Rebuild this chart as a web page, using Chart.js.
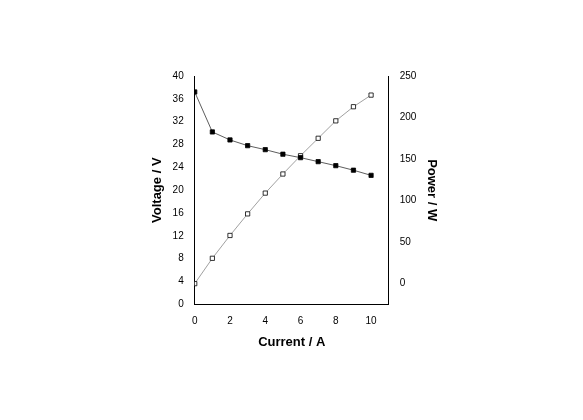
<!DOCTYPE html>
<html><head><meta charset="utf-8">
<script src="https://cdn.jsdelivr.net/npm/chart.js@4"></script>
<style>html,body{margin:0;background:#fff}</style>
</head><body><canvas id="c" width="583" height="420"></canvas>
<script>
const current = [0, 1, 2, 3, 4, 5, 6, 7, 8, 9, 10];
const voltage = [37.2, 30.2, 28.8, 27.8, 27.1, 26.3, 25.7, 25.0, 24.3, 23.5, 22.6];
const power = [0, 30.5, 58, 84, 109, 132, 154, 175, 196, 213, 227];

const pts = (ys) => current.map((x, i) => ({ x: x, y: ys[i] }));
const font = { family: "Liberation Sans, Arial", size: 10 };
const titleFont = { family: "Liberation Sans, Arial", size: 13, weight: "bold" };

new Chart(document.getElementById("c"), {
  type: "scatter",
  data: {
    datasets: [
      {
        data: pts(voltage), yAxisID: "y", showLine: true,
        borderColor: "#333", borderWidth: 0.8, pointStyle: "rect",
        pointRadius: 3, backgroundColor: "#000", pointBorderColor: "#000",
      },
      {
        data: pts(power), yAxisID: "y2", showLine: true,
        borderColor: "#888", borderWidth: 0.8, pointStyle: "rect",
        pointRadius: 3, pointBackgroundColor: "#fff", pointBorderColor: "#000", pointBorderWidth: 0.8,
      },
    ],
  },
  options: {
    responsive: false, animation: false,
    layout: { padding: { left: 146, right: 140, top: 76, bottom: 66 } },
    plugins: { legend: { display: false }, tooltip: { enabled: false } },
    scales: {
      x: {
        type: "linear", min: 0, max: 11,
        afterBuildTicks: (ax) => { ax.ticks = [0, 2, 4, 6, 8, 10].map((v) => ({ value: v })); },
        ticks: { color: "#000", font: font },
        grid: { display: false },
        border: { color: "#000" },
        title: { display: true, text: "Current / A", color: "#000", font: titleFont },
      },
      y: {
        min: 0, max: 40,
        ticks: { stepSize: 4, color: "#000", font: font },
        grid: { display: false },
        border: { color: "#000" },
        title: { display: true, text: "Voltage / V", color: "#000", font: titleFont },
      },
      y2: {
        position: "right", min: -25, max: 250,
        afterBuildTicks: (ax) => { ax.ticks = [0, 50, 100, 150, 200, 250].map((v) => ({ value: v })); },
        ticks: { color: "#000", font: font },
        grid: { display: false },
        border: { color: "#000" },
        title: { display: true, text: "Power / W", color: "#000", font: titleFont },
      },
    },
  },
});
</script>
</body></html>
